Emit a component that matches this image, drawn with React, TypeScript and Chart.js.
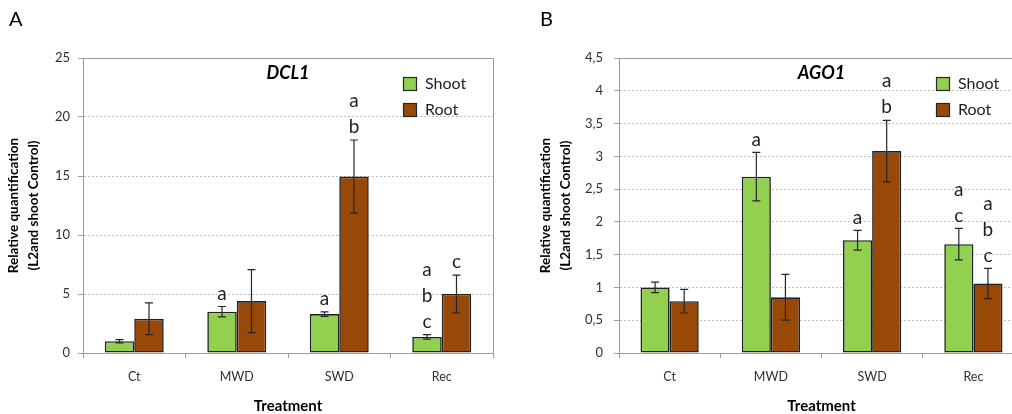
import React, { useEffect, useRef } from "react";
import { Chart, registerables } from "chart.js";

Chart.register(...registerables);

const FONT = "Lato, 'Open Sans', 'DejaVu Sans', sans-serif";
const AXIS = "#9c9c9c";
const GRID = "#bdbdbd";
const TICK = "#303030";
const INK = "#1e1e28";

const categories = ["Ct", "MWD", "SWD", "Rec"];
const seriesNames = ["Shoot", "Root"];
const seriesColors = ["#92D050", "#984807"];
const xTitle = "Treatment";
const yTitle = ["Relative quantification", "(L2and shoot Control)"];

// Panel A: DCL1
const dclShoot = [1.0, 3.5, 3.3, 1.36];
const dclShootErr = [0.14, 0.44, 0.19, 0.19];
const dclRoot = [2.9, 4.4, 14.95, 5.0];
const dclRootErr = [1.35, 2.67, 3.1, 1.6];
const dclShootLetters = ["", "a", "a", "abc"];
const dclRootLetters = ["", "", "ab", "c"];

// Panel B: AGO1
const agoShoot = [1.0, 2.69, 1.72, 1.66];
const agoShootErr = [0.08, 0.37, 0.15, 0.24];
const agoRoot = [0.79, 0.85, 3.08, 1.06];
const agoRootErr = [0.18, 0.35, 0.47, 0.23];
const agoShootLetters = ["", "a", "a", "ac"];
const agoRootLetters = ["", "", "ab", "abc"];

type PanelCfg = {
  panel: string;
  title: string;
  values: number[][];
  errors: number[][];
  letters: string[][];
  yMax: number;
  yStep: number;
  comma: boolean;
  left: number;
  width: number;
  yWidth: number;
  padRight: number;
  tickPad: number;
  yTitlePad: number;
  panelX: number;
  legendX: number;
};

const panels: PanelCfg[] = [
  {
    panel: "A",
    title: "DCL1",
    values: [dclShoot, dclRoot],
    errors: [dclShootErr, dclRootErr],
    letters: [dclShootLetters, dclRootLetters],
    yMax: 25,
    yStep: 5,
    comma: false,
    left: 0,
    width: 506,
    yWidth: 83,
    padRight: 13,
    tickPad: 8,
    yTitlePad: 4,
    panelX: 9,
    legendX: 403,
  },
  {
    panel: "B",
    title: "AGO1",
    values: [agoShoot, agoRoot],
    errors: [agoShootErr, agoRootErr],
    letters: [agoShootLetters, agoRootLetters],
    yMax: 4.5,
    yStep: 0.5,
    comma: true,
    left: 506,
    width: 540,
    yWidth: 113,
    padRight: 22,
    tickPad: 11,
    yTitlePad: 30,
    panelX: 34,
    legendX: 430,
  },
];

function annotatePlugin(cfg: PanelCfg) {
  return {
    id: "annotate" + cfg.panel,
    afterDatasetsDraw(chart: any) {
      const { ctx, chartArea } = chart;
      const y = chart.scales.y;
      ctx.save();
      // plot-area frame (top and right)
      ctx.strokeStyle = AXIS;
      ctx.lineWidth = 1;
      ctx.beginPath();
      ctx.moveTo(chartArea.left, Math.round(chartArea.top) + 0.5);
      ctx.lineTo(Math.round(chartArea.right) + 0.5, Math.round(chartArea.top) + 0.5);
      ctx.lineTo(Math.round(chartArea.right) + 0.5, chartArea.bottom);
      ctx.stroke();

      // error bars and letters
      chart.data.datasets.forEach((ds: any, di: number) => {
        const meta = chart.getDatasetMeta(di);
        meta.data.forEach((bar: any, i: number) => {
          const v = ds.data[i];
          const e = cfg.errors[di][i];
          const yt = y.getPixelForValue(v + e);
          const yb = y.getPixelForValue(v - e);
          const x = bar.x;
          ctx.strokeStyle = "#262626";
          ctx.lineWidth = 1.2;
          ctx.beginPath();
          ctx.moveTo(x, yt);
          ctx.lineTo(x, yb);
          ctx.moveTo(x - 4, yt);
          ctx.lineTo(x + 4, yt);
          ctx.moveTo(x - 4, yb);
          ctx.lineTo(x + 4, yb);
          ctx.stroke();

          const letters = cfg.letters[di][i];
          const n = letters.length;
          ctx.fillStyle = INK;
          ctx.font = `19px ${FONT}`;
          ctx.textAlign = "center";
          ctx.textBaseline = "middle";
          for (let j = 0; j < n; j++) {
            ctx.fillText(letters[j], x, yt - 13 - (n - 1 - j) * 26);
          }
        });
      });

      // gene title
      ctx.fillStyle = "#000";
      ctx.font = `italic bold 18px ${FONT}`;
      ctx.textAlign = "center";
      ctx.textBaseline = "middle";
      ctx.fillText(cfg.title, (chartArea.left + chartArea.right) / 2, 73);

      // legend
      chart.data.datasets.forEach((ds: any, di: number) => {
        const by = 77 + di * 26;
        ctx.fillStyle = ds.backgroundColor;
        ctx.fillRect(cfg.legendX, by, 14, 14);
        ctx.strokeStyle = "#262626";
        ctx.lineWidth = 1.2;
        ctx.strokeRect(cfg.legendX + 0.5, by + 0.5, 13, 13);
        ctx.fillStyle = INK;
        ctx.font = `16px ${FONT}`;
        ctx.textAlign = "left";
        ctx.textBaseline = "middle";
        ctx.fillText(ds.label, cfg.legendX + 22, by + 7);
      });

      // panel label
      ctx.fillStyle = "#000";
      ctx.font = `20px ${FONT}`;
      ctx.textAlign = "left";
      ctx.textBaseline = "middle";
      ctx.fillText(cfg.panel, cfg.panelX, 20);
      ctx.restore();
    },
  };
}

function makeConfig(cfg: PanelCfg): any {
  return {
    type: "bar",
    data: {
      labels: categories,
      datasets: cfg.values.map((vals, di) => ({
        label: seriesNames[di],
        data: vals,
        backgroundColor: seriesColors[di],
        borderColor: "#202020",
        borderWidth: 1.6,
        borderSkipped: false,
        barPercentage: 1,
        categoryPercentage: 0.575,
      })),
    },
    options: {
      responsive: false,
      animation: false,
      devicePixelRatio: 1,
      events: [],
      layout: { padding: { top: 58, right: cfg.padRight, left: 0, bottom: 0 } },
      plugins: {
        legend: { display: false },
        tooltip: { enabled: false },
        title: { display: false },
      },
      scales: {
        x: {
          grid: {
            display: true,
            drawOnChartArea: false,
            drawTicks: true,
            tickLength: 5,
            tickColor: AXIS,
            offset: true,
          },
          border: { display: true, color: AXIS, width: 1 },
          ticks: { font: { family: FONT, size: 12.5 }, color: TICK, padding: 11 },
          title: {
            display: true,
            text: xTitle,
            color: "#000",
            font: { family: FONT, size: 15, weight: "bold", lineHeight: 1 },
            padding: { top: 0, bottom: 0 },
          },
          afterFit: (s: any) => {
            s.height = 61;
          },
        },
        y: {
          min: 0,
          max: cfg.yMax,
          ticks: {
            stepSize: cfg.yStep,
            font: { family: FONT, size: 13 },
            color: TICK,
            padding: cfg.tickPad,
            callback: (v: number) => (cfg.comma ? String(v).replace(".", ",") : String(v)),
          },
          grid: {
            color: (c: any) =>
              c.tick && (c.tick.value === 0 || c.tick.value === cfg.yMax) ? "rgba(0,0,0,0)" : GRID,
            tickColor: AXIS,
            tickLength: 5,
            lineWidth: 1,
          },
          border: { display: true, color: AXIS, width: 1, dash: [2, 2] },
          title: {
            display: true,
            text: yTitle,
            color: "#000",
            font: { family: FONT, size: 13.5, weight: "bold", lineHeight: 1.45 },
            padding: { top: cfg.yTitlePad, bottom: 0 },
          },
          afterFit: (s: any) => {
            s.width = cfg.yWidth;
          },
        },
      },
    },
    plugins: [annotatePlugin(cfg)],
  };
}

function Panel({ cfg }: { cfg: PanelCfg }) {
  const ref = useRef<HTMLCanvasElement | null>(null);
  useEffect(() => {
    if (!ref.current) return;
    const chart = new Chart(ref.current, makeConfig(cfg));
    return () => chart.destroy();
  }, [cfg]);
  return (
    <canvas
      ref={ref}
      width={cfg.width}
      height={414}
      style={{
        position: "absolute",
        left: cfg.left,
        top: 0,
        width: cfg.width,
        height: 414,
        display: "block",
      }}
    />
  );
}

export default function App() {
  return (
    <div
      style={{
        position: "fixed",
        left: 0,
        top: 0,
        width: 1012,
        height: 414,
        overflow: "hidden",
        background: "#fff",
      }}
    >
      {panels.map((p) => (
        <Panel key={p.panel} cfg={p} />
      ))}
    </div>
  );
}
